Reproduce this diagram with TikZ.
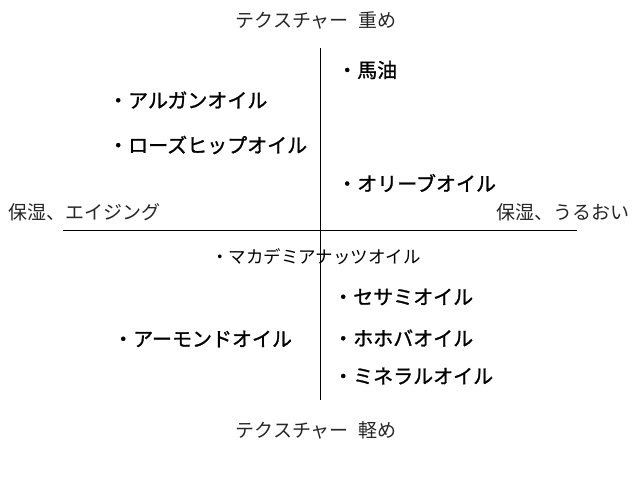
\documentclass[tikz,border=0pt]{standalone}
\usepackage{fontspec}
\newfontfamily\jp{Noto Sans CJK JP}
\newfontfamily\jpm[FakeBold=1.2]{Noto Sans CJK JP}
\begin{document}
\begin{tikzpicture}[x=1pt,y=1pt,
  axislabel/.style={font=\jp\fontsize{19}{22}\selectfont, text=black!85, inner sep=0pt},
  item/.style={font=\jpm\fontsize{20}{23}\selectfont, anchor=west, inner sep=0pt},
  itemlight/.style={font=\jp\fontsize{17.5}{20}\selectfont, anchor=west, inner sep=0pt},
  axis/.style={draw=black, line width=1pt}]
\useasboundingbox (0,0) rectangle (640,480);
\coordinate (vtop) at (320,432);
\coordinate (vbot) at (320,80);
\coordinate (hleft) at (63,249);
\coordinate (hright) at (577,249);
\draw[axis] (vtop) -- (vbot);
\draw[axis] (hleft) -- (hright);
\node[axislabel] (top) at (316,460) {テクスチャー\hspace{0.5em}重め};
\node[axislabel] (bottom) at (316,50) {テクスチャー\hspace{0.5em}軽め};
\node[axislabel, anchor=west] (left) at (8,268) {保湿、エイジング};
\node[axislabel, anchor=east] (right) at (630,268) {保湿、うるおい};
\node[item] (bayu) at (337,410) {・馬油};
\node[item] (argan) at (108,380) {・アルガンオイル};
\node[item] (rose) at (108,335) {・ローズヒップオイル};
\node[item] (olive) at (337,297) {・オリーブオイル};
\node[itemlight] (maca) at (211,223) {・マカデミアナッツオイル};
\node[item] (sesame) at (333,183) {・セサミオイル};
\node[item] (almond) at (113,141) {・アーモンドオイル};
\node[item] (jojoba) at (333,142) {・ホホバオイル};
\node[item] (mineral) at (333,104) {・ミネラルオイル};
\end{tikzpicture}
\end{document}
